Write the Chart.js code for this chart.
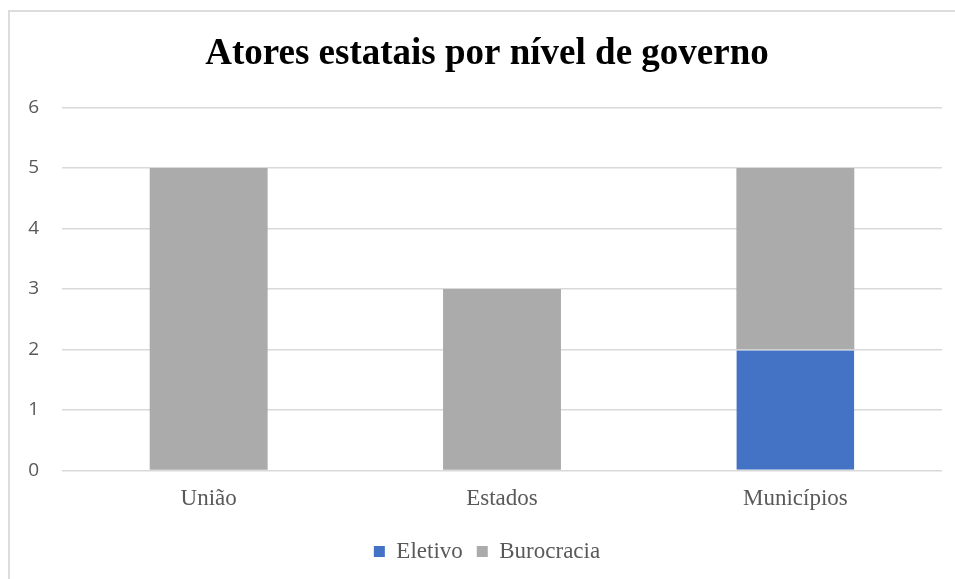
<!DOCTYPE html>
<html>
<head>
<meta charset="utf-8">
<script src="https://cdn.jsdelivr.net/npm/chart.js@4"></script>
<style>
  html, body { margin: 0; padding: 0; background: #fff; overflow: hidden; width: 955px; height: 579px; }
  #frame { position: absolute; left: 8px; top: 10px; width: 1000px; height: 600px; border: 2px solid #dcdcdc; }
  #c { display: block; }
</style>
</head>
<body>
<div id="frame"><canvas id="c" width="954" height="567"></canvas></div>
<script>
'use strict';

const categories = ['União', 'Estados', 'Municípios'];
const eletivo    = [0, 0, 2];
const burocracia = [5, 3, 3];
const yTicks     = [0, 1, 2, 3, 4, 5, 6];

const serif = "'Liberation Serif', 'Times New Roman', serif";
const sans  = "'Open Sans', 'Liberation Sans', sans-serif";
const textGray = '#595959';

new Chart(document.getElementById('c'), {
  type: 'bar',
  data: {
    labels: categories,
    datasets: [
      { label: 'Eletivo', data: eletivo, backgroundColor: '#4472c4',
        borderColor: '#ffffff', borderWidth: { top: 1 }, borderSkipped: 'bottom' },
      { label: 'Burocracia', data: burocracia, backgroundColor: '#ababab',
        borderWidth: 0 },
    ],
  },
  options: {
    responsive: false,
    animation: false,
    layout: { padding: { left: 0, right: 0, top: 0, bottom: 6 } },
    categoryPercentage: 1,
    barPercentage: 0.402,
    plugins: {
      title: {
        display: true,
        text: 'Atores estatais por nível de governo',
        color: '#000',
        font: { family: serif, size: 37, weight: 'bold' },
        padding: { top: 20, bottom: 31 },
      },
      legend: {
        position: 'bottom',
        labels: {
          color: textGray,
          font: { family: serif, size: 23 },
          boxWidth: 11, boxHeight: 11,
          padding: 14,
          generateLabels(chart) {
            return chart.data.datasets.map((d, i) => ({
              text: d.label, fillStyle: d.backgroundColor, strokeStyle: d.backgroundColor,
              lineWidth: 0, datasetIndex: i, fontColor: textGray,
            }));
          },
        },
      },
      tooltip: { enabled: false },
    },
    scales: {
      x: {
        stacked: true,
        afterFit(s) { s.height += 6; },
        grid: { display: false },
        border: { display: false },
        ticks: { color: textGray, font: { family: serif, size: 23 }, padding: 7 },
      },
      y: {
        stacked: true,
        min: 0, max: 6,
        afterFit(s) { s.width = 52; },
        afterBuildTicks(s) { s.ticks = yTicks.map(v => ({ value: v })); },
        grid: { color: '#d9d9d9', lineWidth: 1.5, drawTicks: false },
        border: { display: false },
        ticks: { color: textGray, font: { family: sans, size: 19 }, padding: 23 },
      },
      // empty right-hand spacer so the title and legend centre on the whole frame
      y2: {
        type: 'linear',
        position: 'right',
        afterFit(s) { s.width = 22; },
        grid: { display: false },
        border: { display: false },
        ticks: { display: false },
      },
    },
  },
});
</script>
</body>
</html>
